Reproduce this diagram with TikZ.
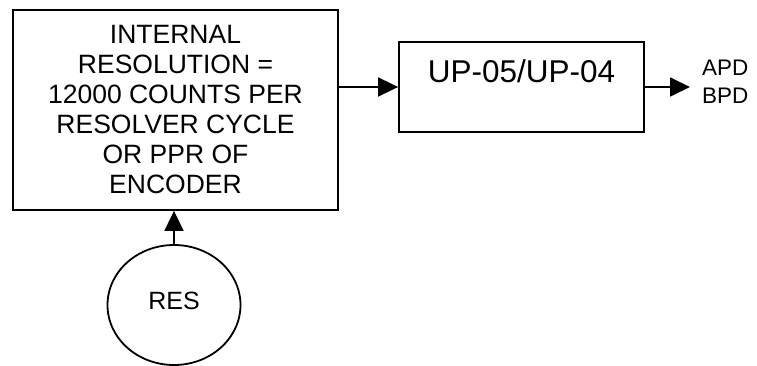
\documentclass[tikz,border=0pt]{standalone}
\usepackage{fontspec}
\setmainfont{Liberation Sans}
\usetikzlibrary{arrows.meta,shapes.geometric}
\begin{document}
\begin{tikzpicture}[x=1pt,y=-1pt,
  boxstyle/.style={draw,line width=1.8pt,rectangle,inner sep=0pt},
  conn/.style={line width=1.8pt,-{Triangle[length=20pt,width=19pt]}},
  txt/.style={inner sep=0pt,align=center}]
\useasboundingbox (0,0) rectangle (757,366);
\node[boxstyle,minimum width=325pt,minimum height=200pt,
  font=\fontsize{26.5pt}{30pt}\selectfont,align=center] (res) at (175.5,110)
  {INTERNAL\\RESOLUTION =\\12000 COUNTS PER\\RESOLVER CYCLE\\OR PPR OF\\ENCODER};
\node[boxstyle,minimum width=245pt,minimum height=90pt] (up) at (521.5,87) {};
\node[txt,font=\fontsize{31.5pt}{36pt}\selectfont] (uplabel) at (521.5,71.5) {UP-05/UP-04};
\node[draw,ellipse,line width=1.8pt,minimum width=133pt,minimum height=120pt,inner sep=0pt] (circ) at (174,305) {};
\node[txt,font=\fontsize{25pt}{30pt}\selectfont] (reslabel) at (174,301) {RES};
\node[inner sep=0pt,anchor=west,align=left,font=\fontsize{22.5pt}{28pt}\selectfont] (out) at (702,82) {APD\\BPD};
\coordinate (outend) at (690,87);
\draw[conn] (res.east |- up.west) -- (up.west);
\draw[conn] (up.east) -- (outend);
\draw[conn] (circ.north) -- (res.south -| circ.north);
\end{tikzpicture}
\end{document}
